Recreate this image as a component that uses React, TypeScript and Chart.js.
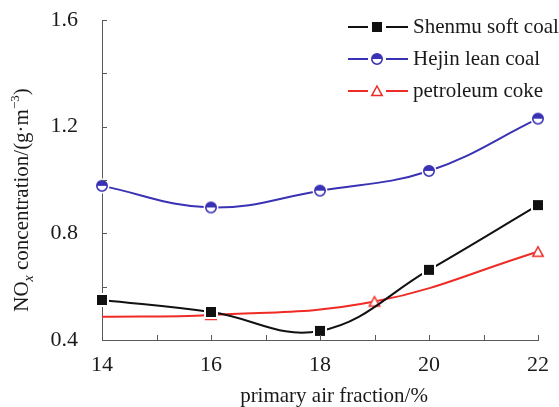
import React, { useEffect, useRef } from 'react';
import { Chart, registerables } from 'chart.js';
Chart.register(...registerables);

// ---- data ----
const xCategories = [14, 16, 18, 20, 22];
const shenmuValues = [0.55, 0.505, 0.434, 0.663, 0.906];
const hejinValues = [0.978, 0.897, 0.96, 1.034, 1.23];
const cokeX = [14, 16, 19, 22];
const cokeValues = [0.487, 0.494, 0.544, 0.731];
const cokeMarkers = [false, true, true, true];
const xTickLabels = [14, 16, 18, 20, 22];
const yTickLabels = [0.4, 0.8, 1.2, 1.6];
const seriesNames = ['Shenmu soft coal', 'Hejin lean coal', 'petroleum coke'];
const xTitle = 'primary air fraction/%';

const BLACK = '#111111';
const BLUE = '#3a32b4';
const RED = '#ee2b25';
const AXIS = '#5a5a5a';
const TEXT = '#1a1a1a';
const SERIF = "'Liberation Serif', 'Times New Roman', serif";

function makeSquare(): HTMLCanvasElement {
  const c = document.createElement('canvas');
  c.width = 14; c.height = 14;
  const g = c.getContext('2d')!;
  g.fillStyle = '#ffffff';
  g.fillRect(0, 0, 14, 14);
  g.fillStyle = BLACK;
  g.fillRect(2, 2, 10, 10);
  return c;
}
function makeHalfCircle(): HTMLCanvasElement {
  const c = document.createElement('canvas');
  c.width = 16; c.height = 16;
  const g = c.getContext('2d')!;
  g.fillStyle = '#ffffff';
  g.beginPath(); g.arc(8, 8, 7.5, 0, Math.PI * 2); g.fill();
  g.fillStyle = BLUE;
  g.beginPath(); g.arc(8, 8, 5.2, Math.PI, 0); g.closePath(); g.fill();
  g.strokeStyle = BLUE; g.lineWidth = 1.6;
  g.beginPath(); g.arc(8, 8, 5.2, 0, Math.PI * 2); g.stroke();
  return c;
}
function makeTriangle(): HTMLCanvasElement {
  const c = document.createElement('canvas');
  c.width = 16; c.height = 16;
  const g = c.getContext('2d')!;
  g.beginPath();
  g.moveTo(8, 1.5); g.lineTo(14.5, 13.5); g.lineTo(1.5, 13.5); g.closePath();
  g.fillStyle = '#ffffff'; g.fill();
  g.beginPath();
  g.moveTo(8, 3); g.lineTo(13.2, 12.6); g.lineTo(2.8, 12.6); g.closePath();
  g.strokeStyle = RED; g.lineWidth = 1.5; g.stroke();
  return c;
}

export default function App() {
  const ref = useRef<HTMLCanvasElement>(null);
  useEffect(() => {
    const sq = makeSquare();
    const hc = makeHalfCircle();
    const tr = makeTriangle();
    const markers = [sq, hc, tr];
    const colors = [BLACK, BLUE, RED];

    const decor = {
      id: 'decor',
      afterDraw(chart: any) {
        const ctx = chart.ctx as CanvasRenderingContext2D;
        const xs = chart.scales.x;
        const ys = chart.scales.y;
        const { left, bottom } = chart.chartArea;
        ctx.save();
        // inward ticks
        ctx.strokeStyle = AXIS;
        ctx.lineWidth = 1;
        for (let i = 0; i <= 6; i++) {
          const v = 0.4 + i * 0.2;
          const y = Math.round(ys.getPixelForValue(v)) + 0.5;
          ctx.beginPath(); ctx.moveTo(left, y); ctx.lineTo(left + 5, y); ctx.stroke();
        }
        for (let v = 14; v <= 22; v++) {
          const x = Math.round(xs.getPixelForValue(v)) + 0.5;
          ctx.beginPath(); ctx.moveTo(x, bottom); ctx.lineTo(x, bottom - 5); ctx.stroke();
        }
        // legend
        const rows = [27, 59, 91];
        for (let i = 0; i < 3; i++) {
          const y = rows[i];
          ctx.strokeStyle = colors[i];
          ctx.lineWidth = 2;
          ctx.beginPath(); ctx.moveTo(348, y); ctx.lineTo(368, y); ctx.stroke();
          ctx.beginPath(); ctx.moveTo(386, y); ctx.lineTo(408, y); ctx.stroke();
          const m = markers[i];
          ctx.drawImage(m, 377 - m.width / 2, y - m.height / 2);
          ctx.fillStyle = TEXT;
          ctx.font = `21px ${SERIF}`;
          ctx.textAlign = 'left';
          ctx.textBaseline = 'alphabetic';
          ctx.fillText(seriesNames[i], 413, y + 6);
        }
        // x title
        ctx.fillStyle = TEXT;
        ctx.font = `21px ${SERIF}`;
        ctx.textAlign = 'center';
        ctx.textBaseline = 'alphabetic';
        ctx.fillText(xTitle, 334, 402);
        // y title
        const pieces: [string, string, number][] = [
          ['NO', `21px ${SERIF}`, 0],
          ['x', `italic 14px ${SERIF}`, 5],
          [' concentration/(g·m', `21px ${SERIF}`, 0],
          ['−3', `13px ${SERIF}`, -9],
          [')', `21px ${SERIF}`, 0],
        ];
        let total = 0;
        for (const p of pieces) { ctx.font = p[1]; total += ctx.measureText(p[0]).width; }
        ctx.translate(28, 200);
        ctx.rotate(-Math.PI / 2);
        ctx.textAlign = 'left';
        let cx = -total / 2;
        for (const p of pieces) {
          ctx.font = p[1];
          ctx.fillText(p[0], cx, p[2]);
          cx += ctx.measureText(p[0]).width;
        }
        ctx.restore();
      },
    };

    const chart = new Chart(ref.current!, {
      type: 'line',
      data: {
        datasets: [
          {
            label: seriesNames[0],
            data: xCategories.map((x, i) => ({ x, y: shenmuValues[i] })),
            borderColor: BLACK,
            borderWidth: 2,
            tension: 0.4,
            pointStyle: sq as any,
            pointRadius: 6,
            clip: false as any,
          },
          {
            label: seriesNames[1],
            data: xCategories.map((x, i) => ({ x, y: hejinValues[i] })),
            borderColor: BLUE,
            borderWidth: 2,
            tension: 0.4,
            pointStyle: hc as any,
            pointRadius: 6,
            clip: false as any,
          },
          {
            label: seriesNames[2],
            data: cokeX.map((x, i) => ({ x, y: cokeValues[i] })),
            borderColor: RED,
            borderWidth: 2,
            tension: 0.4,
            pointStyle: tr as any,
            pointRadius: cokeMarkers.map((m) => (m ? 6 : 0)),
            clip: false as any,
          },
        ],
      },
      options: {
        animation: false,
        responsive: false,
        layout: { padding: { top: 20, right: 21, left: 0, bottom: 0 } },
        plugins: { legend: { display: false }, tooltip: { enabled: false } },
        scales: {
          x: {
            type: 'linear',
            min: 14,
            max: 22,
            afterFit: (s: any) => { s.height = 67; s.paddingLeft = 0; s.paddingRight = 0; },
            grid: { display: false, drawTicks: false },
            border: { display: true, color: AXIS, width: 1 },
            ticks: {
              stepSize: 1,
              padding: 12,
              color: TEXT,
              font: { family: SERIF, size: 22 },
              callback: (v: any) => (xTickLabels.includes(Math.round(Number(v))) ? String(Math.round(Number(v))) : ''),
            },
          },
          y: {
            min: 0.4,
            max: 1.6,
            afterFit: (s: any) => { s.width = 102; s.paddingTop = 0; s.paddingBottom = 0; },
            grid: { display: false, drawTicks: false },
            border: { display: true, color: AXIS, width: 1 },
            ticks: {
              stepSize: 0.2,
              padding: 24,
              color: TEXT,
              font: { family: SERIF, size: 22 },
              callback: (v: any) => {
                const r = Math.round(Number(v) * 10) / 10;
                return yTickLabels.some((t) => Math.abs(t - r) < 1e-6) ? r.toFixed(1) : '';
              },
            },
          },
        },
      },
      plugins: [decor],
    });
    return () => chart.destroy();
  }, []);
  return (
    <div style={{ position: 'absolute', left: 0, top: 0, width: 559, height: 407, background: '#fff' }}>
      <canvas ref={ref} width={559} height={407} />
    </div>
  );
}
